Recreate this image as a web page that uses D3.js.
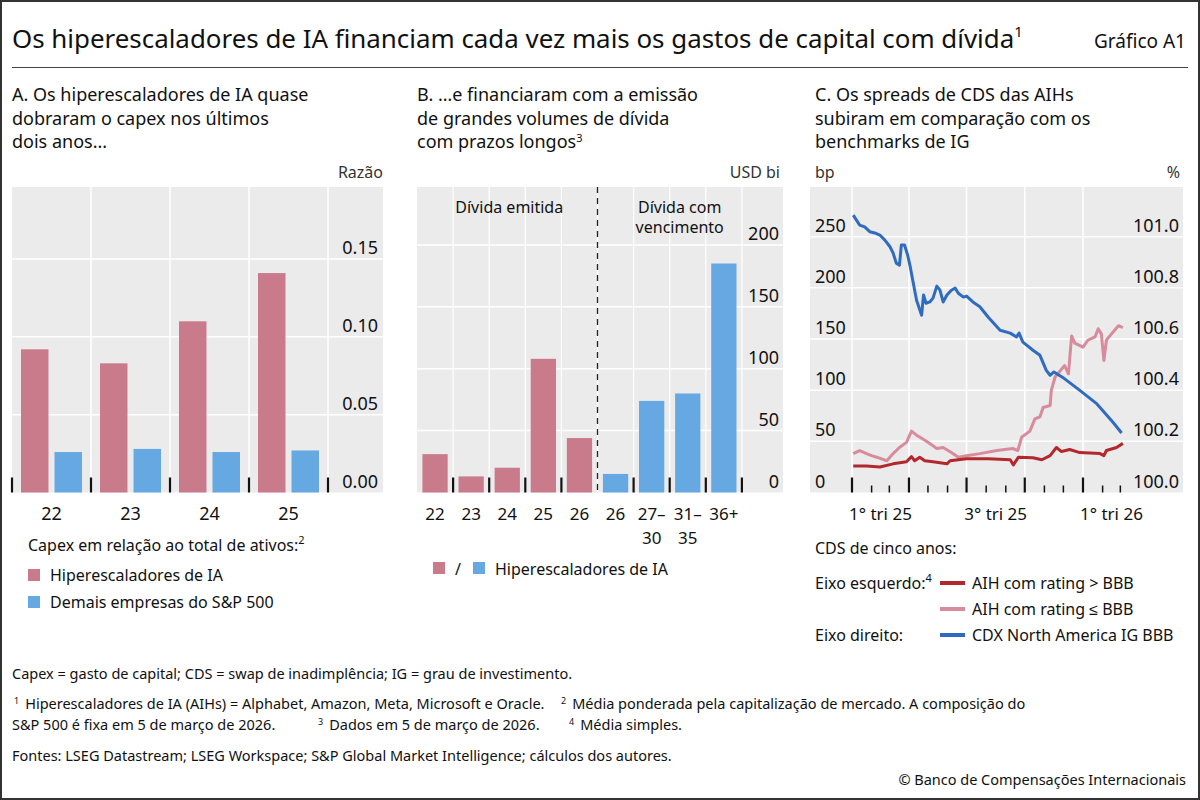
<!DOCTYPE html>
<html>
<head>
<meta charset="utf-8">
<script src="https://cdn.jsdelivr.net/npm/d3@7"></script>
<style>
  body { margin: 0; background: #fff; }
  svg { display: block; font-family: "Noto Sans", sans-serif; }
  text { fill: #111; }
</style>
</head>
<body>
<div id="chart"></div>
<script>
"use strict"

// ---- data --------------------------------------------------------------

// Panel A: capex / total assets
const capexYears = ["22", "23", "24", "25"];
const capexHyper = [0.092, 0.083, 0.110, 0.141];
const capexOthers = [0.026, 0.028, 0.026, 0.027];

// Panel B: debt issued (first five) and maturing (last four), USD bn
const debtLabels = [["22"], ["23"], ["24"], ["25"], ["26"], ["26"], ["27–", "30"], ["31–", "35"], ["36+"]];
const debtValues = [31, 13, 20, 108, 44, 15, 74, 80, 185];
const debtIssuedCount = 5;

// Panel C: five-year CDS (bp, left axis) and CDX NA IG BBB (%, right axis)
const cdsAbove = [
  ["2025-01-03", 26], ["2025-01-24", 26], ["2025-02-14", 25], ["2025-03-07", 28],
  ["2025-03-28", 30], ["2025-04-05", 35], ["2025-04-10", 31], ["2025-04-18", 34.5],
  ["2025-04-26", 31], ["2025-05-09", 30], ["2025-05-31", 28], ["2025-06-05", 31],
  ["2025-07-01", 33], ["2025-08-04", 33], ["2025-09-08", 32], ["2025-09-13", 27],
  ["2025-09-21", 34.5], ["2025-10-14", 34], ["2025-10-28", 32], ["2025-11-10", 36],
  ["2025-11-20", 44], ["2025-11-28", 40], ["2025-12-11", 42], ["2025-12-27", 39],
  ["2026-01-28", 38], ["2026-02-03", 36], ["2026-02-07", 41], ["2026-02-23", 44],
  ["2026-03-05", 48]
];
const cdsBelow = [
  ["2025-01-03", 38], ["2025-01-13", 41], ["2025-01-24", 38], ["2025-02-01", 36],
  ["2025-02-09", 34.5], ["2025-02-25", 31], ["2025-03-07", 38], ["2025-03-17", 44],
  ["2025-03-28", 49], ["2025-04-05", 60], ["2025-04-13", 56], ["2025-04-21", 53],
  ["2025-05-01", 49], ["2025-05-15", 43], ["2025-05-25", 44], ["2025-06-07", 39],
  ["2025-06-18", 34.5], ["2025-07-01", 36], ["2025-07-22", 38], ["2025-08-18", 41],
  ["2025-09-12", 43], ["2025-09-20", 41], ["2025-09-26", 54], ["2025-10-09", 60],
  ["2025-10-17", 72], ["2025-10-25", 74], ["2025-10-30", 83], ["2025-11-10", 85],
  ["2025-11-12", 100], ["2025-11-18", 113], ["2025-11-26", 119], ["2025-12-03", 124],
  ["2025-12-09", 116], ["2025-12-14", 153], ["2025-12-19", 146], ["2026-01-01", 142],
  ["2026-01-09", 149], ["2026-01-20", 152], ["2026-01-25", 160], ["2026-01-30", 155],
  ["2026-02-03", 129], ["2026-02-07", 149], ["2026-02-15", 155], ["2026-02-26", 163],
  ["2026-03-05", 161]
];
const cdxBBB = [
  ["2025-01-03", 101.086], ["2025-01-13", 101.047], ["2025-01-21", 101.040], ["2025-01-29", 101.021],
  ["2025-02-06", 101.016], ["2025-02-14", 101.008], ["2025-02-22", 100.988], ["2025-03-02", 100.962],
  ["2025-03-07", 100.937], ["2025-03-12", 100.898], ["2025-03-17", 100.890], ["2025-03-20", 100.969],
  ["2025-03-25", 100.969], ["2025-03-30", 100.929], ["2025-04-03", 100.884], ["2025-04-07", 100.831],
  ["2025-04-13", 100.753], ["2025-04-21", 100.694], ["2025-04-24", 100.773], ["2025-04-28", 100.741],
  ["2025-05-04", 100.746], ["2025-05-09", 100.761], ["2025-05-15", 100.808], ["2025-05-20", 100.792],
  ["2025-05-25", 100.746], ["2025-05-31", 100.773], ["2025-06-07", 100.792], ["2025-06-13", 100.800],
  ["2025-06-18", 100.780], ["2025-06-26", 100.765], ["2025-07-01", 100.769], ["2025-07-11", 100.746],
  ["2025-07-22", 100.727], ["2025-08-04", 100.687], ["2025-08-23", 100.635], ["2025-09-08", 100.624],
  ["2025-09-18", 100.609], ["2025-09-22", 100.624], ["2025-09-28", 100.589], ["2025-10-14", 100.557],
  ["2025-10-25", 100.537], ["2025-11-04", 100.478], ["2025-11-10", 100.459], ["2025-11-16", 100.472],
  ["2025-12-02", 100.447], ["2025-12-27", 100.400], ["2026-01-22", 100.349], ["2026-02-17", 100.276],
  ["2026-03-03", 100.233]
];
const leftTicks = [0, 50, 100, 150, 200, 250];
const rightTicks = [100.0, 100.2, 100.4, 100.6, 100.8, 101.0];
const quarterLabels = [["2025-01-01", "1° tri 25"], ["2025-07-01", "3° tri 25"], ["2026-01-01", "1° tri 26"]];

// ---- style -------------------------------------------------------------

const BG = "#ebebeb";
const RED_BAR = "#c97b8c";
const BLUE_BAR = "#66a8e2";
const LINE_DARK = "#b3282d";
const LINE_PINK = "#d88b9c";
const LINE_BLUE = "#2f6cc0";

const svg = d3.select("#chart").append("svg")
  .attr("width", 1200)
  .attr("height", 800);

svg.append("rect")
  .attr("x", 1).attr("y", 1).attr("width", 1198).attr("height", 798)
  .attr("fill", "#fff").attr("stroke", "#333").attr("stroke-width", 2);

// ---- header ------------------------------------------------------------

let title = svg.append("text")
  .attr("x", 12).attr("y", 48)
  .attr("font-size", 25.9);
title.append("tspan").text("Os hiperescaladores de IA financiam cada vez mais os gastos de capital com dívida");
title.append("tspan").attr("font-size", 15).attr("dy", -11).text("1");

svg.append("text")
  .attr("x", 1186).attr("y", 48)
  .attr("text-anchor", "end")
  .attr("font-size", 19)
  .text("Gráfico A1");

svg.append("line")
  .attr("x1", 12).attr("x2", 1188).attr("y1", 67.5).attr("y2", 67.5)
  .attr("stroke", "#444").attr("stroke-width", 1.2);

function panelTitle(x, lines, sup) {
  lines.forEach((line, i) => {
    let t = svg.append("text").attr("font-size", 18)
      .attr("x", x).attr("y", 101 + i * 23.5);
    t.append("tspan").text(line);
    if (sup && i === lines.length - 1) {
      t.append("tspan").attr("font-size", 11).attr("dy", -6).text(sup);
    }
  });
}

panelTitle(12, ["A. Os hiperescaladores de IA quase", "dobraram o capex nos últimos", "dois anos..."]);
panelTitle(417, ["B. …e financiaram com a emissão", "de grandes volumes de dívida", "com prazos longos"], "3");
panelTitle(815, ["C. Os spreads de CDS das AIHs", "subiram em comparação com os", "benchmarks de IG"]);

function unitLabel(x, anchor, txt) {
  svg.append("text")
    .attr("x", x).attr("y", 178)
    .attr("text-anchor", anchor)
    .attr("font-size", 16)
    .style("fill", "#333")
    .text(txt);
}

const TOP = 187, BOTTOM = 492.5;

// ---- panel A -----------------------------------------------------------

{
  const left = 12, right = 383, bandsEnd = 328;
  const g = svg.append("g");
  g.append("rect").attr("x", left).attr("y", TOP)
    .attr("width", right - left).attr("height", BOTTOM - TOP).attr("fill", BG);

  const x = d3.scaleBand().domain(capexYears).range([left, bandsEnd]);
  const xIn = d3.scaleBand().domain(["hyper", "others"]).range([9, 70]).paddingInner(0.18);
  const y = d3.scaleLinear().domain([0, 0.1963]).range([BOTTOM, TOP]);
  const yTicks = [0, 0.05, 0.10, 0.15];

  // grid
  g.selectAll(".hgrid").data(yTicks.slice(1)).enter().append("line")
    .attr("x1", left).attr("x2", right)
    .attr("y1", d => y(d)).attr("y2", d => y(d))
    .attr("stroke", "#fff").attr("stroke-width", 1.5);
  g.selectAll(".vgrid").data(capexYears).enter().append("line")
    .attr("x1", d => x(d) + x.bandwidth()).attr("x2", d => x(d) + x.bandwidth())
    .attr("y1", TOP).attr("y2", BOTTOM)
    .attr("stroke", "#fff").attr("stroke-width", 1.5);

  const rows = capexYears.map((yr, i) => ({yr, hyper: capexHyper[i], others: capexOthers[i]}));
  ["hyper", "others"].forEach(key => {
    g.selectAll(".bar-" + key).data(rows).enter().append("rect")
      .attr("x", d => x(d.yr) + xIn(key))
      .attr("width", xIn.bandwidth())
      .attr("y", d => y(d[key]))
      .attr("height", d => y(0) - y(d[key]))
      .attr("fill", key === "hyper" ? RED_BAR : BLUE_BAR);
  });

  // ticks
  const tickPos = capexYears.map(d => x(d)).concat([bandsEnd]);
  g.selectAll(".tick").data(tickPos).enter().append("line")
    .attr("x1", d => d).attr("x2", d => d)
    .attr("y1", BOTTOM - 15).attr("y2", BOTTOM)
    .attr("stroke", "#111").attr("stroke-width", 2.2);

  g.selectAll(".ylab").data(yTicks).enter().append("text")
    .attr("x", right - 5).attr("y", d => y(d) - 5)
    .attr("text-anchor", "end").attr("font-size", 18)
    .text(d3.format(".2f"));

  g.selectAll(".xlab").data(capexYears).enter().append("text")
    .attr("x", d => x(d) + x.bandwidth() / 2).attr("y", 520)
    .attr("text-anchor", "middle").attr("font-size", 18)
    .text(d => d);

  unitLabel(right, "end", "Razão");

  // legend
  let lt = g.append("text").attr("x", 28).attr("y", 551).attr("font-size", 16);
  lt.append("tspan").text("Capex em relação ao total de ativos:");
  lt.append("tspan").attr("font-size", 11).attr("dy", -7).text("2");
  [["Hiperescaladores de IA", RED_BAR], ["Demais empresas do S&P 500", BLUE_BAR]].forEach(([name, col], i) => {
    g.append("rect").attr("x", 28).attr("y", 569 + i * 27).attr("width", 12).attr("height", 12).attr("fill", col);
    g.append("text").attr("x", 50).attr("y", 581 + i * 27).attr("font-size", 16).text(name);
  });
}

// ---- panel B -----------------------------------------------------------

{
  const left = 417, right = 783;
  const g = svg.append("g");
  g.append("rect").attr("x", left).attr("y", TOP)
    .attr("width", right - left).attr("height", BOTTOM - TOP).attr("fill", BG);

  const idx = debtValues.map((d, i) => i);
  const step = 36.1;
  const x = d3.scaleBand().domain(idx).range([left, left + step * idx.length]).paddingInner(0.3).paddingOuter(0.15);
  const y = d3.scaleLinear().domain([0, 246.8]).range([BOTTOM, TOP]);
  const yTicks = [0, 50, 100, 150, 200];
  // left edge of slot i (i may equal the number of bars: right edge of the last slot)
  const edge = i => left + i * x.step();

  g.selectAll(".hgrid").data(yTicks.slice(1)).enter().append("line")
    .attr("x1", left).attr("x2", right)
    .attr("y1", d => y(d)).attr("y2", d => y(d))
    .attr("stroke", "#fff").attr("stroke-width", 1.5);
  g.selectAll(".vgrid").data(idx).enter().append("line")
    .attr("x1", i => edge(i + 1)).attr("x2", i => edge(i + 1))
    .attr("y1", TOP).attr("y2", BOTTOM)
    .attr("stroke", "#fff").attr("stroke-width", 1.2);

  g.selectAll(".bar").data(idx).enter().append("rect")
    .attr("x", i => x(i))
    .attr("width", x.bandwidth())
    .attr("y", i => y(debtValues[i]))
    .attr("height", i => y(0) - y(debtValues[i]))
    .attr("fill", i => i < debtIssuedCount ? RED_BAR : BLUE_BAR);

  // divider between issued and maturing debt
  const divX = edge(debtIssuedCount);
  g.append("line")
    .attr("x1", divX).attr("x2", divX).attr("y1", TOP).attr("y2", BOTTOM)
    .attr("stroke", "#222").attr("stroke-width", 1.3).attr("stroke-dasharray", "6,5");

  const tickIdx = idx.filter(i => i > 0 && i !== debtIssuedCount).concat([idx.length]);
  g.selectAll(".tick").data(tickIdx).enter().append("line")
    .attr("x1", i => edge(i)).attr("x2", i => edge(i))
    .attr("y1", BOTTOM - 15).attr("y2", BOTTOM)
    .attr("stroke", "#111").attr("stroke-width", 2.2);

  g.selectAll(".ylab").data(yTicks).enter().append("text")
    .attr("x", right - 4).attr("y", d => y(d) - 5)
    .attr("text-anchor", "end").attr("font-size", 18)
    .text(d => d);

  idx.forEach(i => {
    debtLabels[i].forEach((line, j) => {
      g.append("text")
        .attr("x", x(i) + x.bandwidth() / 2).attr("y", 520 + j * 24)
        .attr("text-anchor", "middle").attr("font-size", 17)
        .text(line);
    });
  });

  g.append("text").attr("x", (left + divX) / 2 + 2).attr("y", 213)
    .attr("text-anchor", "middle").attr("font-size", 16).text("Dívida emitida");
  ["Dívida com", "vencimento"].forEach((line, j) => {
    g.append("text").attr("x", (divX + edge(idx.length)) / 2 + 10).attr("y", 213 + j * 20)
      .attr("text-anchor", "middle").attr("font-size", 16).text(line);
  });

  unitLabel(right - 3, "end", "USD bi");

  // legend
  g.append("rect").attr("x", 433).attr("y", 562).attr("width", 12).attr("height", 12).attr("fill", RED_BAR);
  g.append("text").attr("x", 455).attr("y", 575).attr("font-size", 16).text("/");
  g.append("rect").attr("x", 473).attr("y", 562).attr("width", 12).attr("height", 12).attr("fill", BLUE_BAR);
  g.append("text").attr("x", 495).attr("y", 575).attr("font-size", 16).text("Hiperescaladores de IA");
}

// ---- panel C -----------------------------------------------------------

{
  const left = 810, right = 1183;
  const g = svg.append("g");
  g.append("rect").attr("x", left).attr("y", TOP)
    .attr("width", right - left).attr("height", BOTTOM - TOP).attr("fill", BG);

  const parse = d3.utcParse("%Y-%m-%d");
  const x = d3.scaleUtc().domain([parse("2025-01-01"), parse("2026-01-01")]).range([852, 1083]);
  const yL = d3.scaleLinear().domain([0, 298.5]).range([BOTTOM, TOP]);
  const yR = d3.scaleLinear().domain([100, 101.196]).range([BOTTOM, TOP]);

  const quarters = d3.utcMonth.every(3).range(parse("2025-01-01"), parse("2026-01-02"));
  const months = d3.utcMonth.range(parse("2025-01-01"), parse("2026-03-02"))
    .filter(d => d.getUTCMonth() % 3 !== 0);

  g.selectAll(".hgrid").data(leftTicks.slice(1)).enter().append("line")
    .attr("x1", left).attr("x2", right)
    .attr("y1", d => yL(d)).attr("y2", d => yL(d))
    .attr("stroke", "#fff").attr("stroke-width", 1.5);
  g.selectAll(".vgrid").data(quarters).enter().append("line")
    .attr("x1", d => x(d)).attr("x2", d => x(d))
    .attr("y1", TOP).attr("y2", BOTTOM)
    .attr("stroke", "#fff").attr("stroke-width", 1.5);

  g.selectAll(".major").data(quarters).enter().append("line")
    .attr("x1", d => x(d)).attr("x2", d => x(d))
    .attr("y1", BOTTOM - 15).attr("y2", BOTTOM)
    .attr("stroke", "#111").attr("stroke-width", 2.2);
  g.selectAll(".minor").data(months).enter().append("line")
    .attr("x1", d => x(d)).attr("x2", d => x(d))
    .attr("y1", BOTTOM - 7).attr("y2", BOTTOM)
    .attr("stroke", "#111").attr("stroke-width", 1.5);

  const lineL = d3.line().x(d => x(parse(d[0]))).y(d => yL(d[1]));
  const lineR = d3.line().x(d => x(parse(d[0]))).y(d => yR(d[1]));
  [[cdsBelow, lineL, LINE_PINK], [cdsAbove, lineL, LINE_DARK], [cdxBBB, lineR, LINE_BLUE]].forEach(([data, gen, col]) => {
    g.append("path").datum(data)
      .attr("d", gen)
      .attr("fill", "none").attr("stroke", col)
      .attr("stroke-width", 3).attr("stroke-linejoin", "round");
  });

  g.selectAll(".ylabL").data(leftTicks).enter().append("text")
    .attr("x", 815).attr("y", d => yL(d) - 5)
    .attr("font-size", 18).text(d => d);
  g.selectAll(".ylabR").data(rightTicks).enter().append("text")
    .attr("x", 1179).attr("y", d => yR(d) - 5)
    .attr("text-anchor", "end").attr("font-size", 18)
    .text(d3.format(".1f"));

  g.selectAll(".xlab").data(quarterLabels).enter().append("text")
    .attr("x", d => {
      const s = parse(d[0]);
      return (x(s) + x(d3.utcMonth.offset(s, 3))) / 2;
    })
    .attr("y", 520).attr("text-anchor", "middle").attr("font-size", 17)
    .text(d => d[1]);

  unitLabel(815, "start", "bp");
  unitLabel(1180, "end", "%");

  // legend
  g.append("text").attr("x", 815).attr("y", 554).attr("font-size", 16).text("CDS de cinco anos:");
  let ea = g.append("text").attr("x", 815).attr("y", 589).attr("font-size", 16);
  ea.append("tspan").text("Eixo esquerdo:");
  ea.append("tspan").attr("font-size", 11).attr("dy", -7).text("4");
  g.append("text").attr("x", 815).attr("y", 641).attr("font-size", 16).text("Eixo direito:");
  [["AIH com rating > BBB", LINE_DARK], ["AIH com rating ≤ BBB", LINE_PINK], ["CDX North America IG BBB", LINE_BLUE]]
    .forEach(([name, col], i) => {
      const yy = 583 + i * 26;
      g.append("line").attr("x1", 940).attr("x2", 965).attr("y1", yy).attr("y2", yy)
        .attr("stroke", col).attr("stroke-width", 4);
      g.append("text").attr("x", 972).attr("y", yy + 6).attr("font-size", 16).text(name);
    });
}

// ---- footer ------------------------------------------------------------

{
  const fs = 14.5;
  const g = svg.append("g").attr("font-size", fs);
  g.append("text").attr("x", 12).attr("y", 679)
    .text("Capex = gasto de capital; CDS = swap de inadimplência; IG = grau de investimento.");

  function note(t, x, num, txt) {
    t.append("tspan").attr("x", x).attr("font-size", 9).attr("dy", -5).text(num);
    t.append("tspan").attr("dx", 6).attr("dy", 5).text(txt);
  }
  let l2 = g.append("text").attr("y", 709);
  note(l2, 14, "1", "Hiperescaladores de IA (AIHs) = Alphabet, Amazon, Meta, Microsoft e Oracle.");
  note(l2, 561, "2", "Média ponderada pela capitalização de mercado. A composição do");

  let l3 = g.append("text").attr("y", 730);
  l3.append("tspan").attr("x", 12).text("S&P 500 é fixa em 5 de março de 2026.");
  note(l3, 318, "3", "Dados em 5 de março de 2026.");
  note(l3, 569, "4", "Média simples.");

  g.append("text").attr("x", 12).attr("y", 761)
    .text("Fontes: LSEG Datastream; LSEG Workspace; S&P Global Market Intelligence; cálculos dos autores.");
  g.append("text").attr("x", 1186).attr("y", 785).attr("text-anchor", "end")
    .text("© Banco de Compensações Internacionais");
}
</script>
</body>
</html>
